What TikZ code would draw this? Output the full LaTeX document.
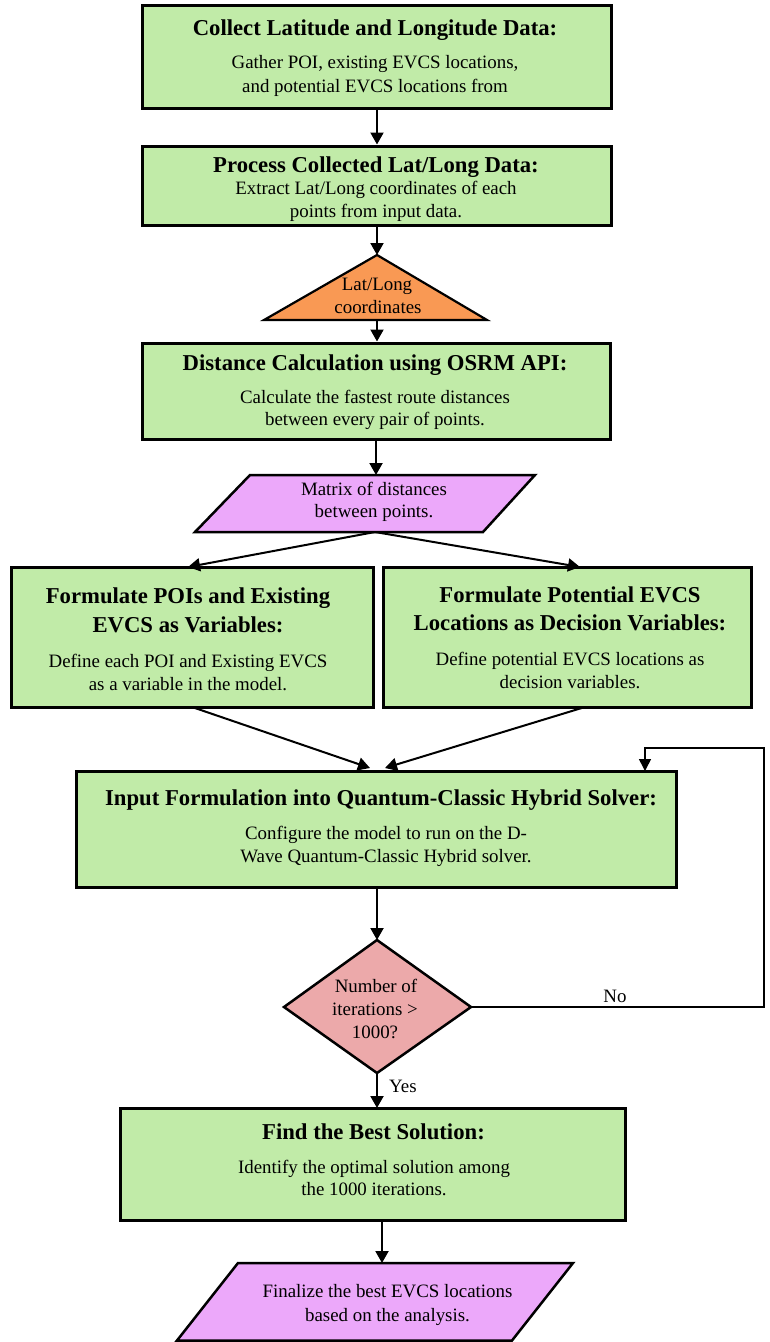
\documentclass[tikz,border=0pt]{standalone}
\usepackage{fontspec}
\setmainfont{Liberation Serif}
\usetikzlibrary{arrows.meta}
\definecolor{boxgreen}{RGB}{193,235,168}
\definecolor{triorange}{RGB}{249,153,84}
\definecolor{iopink}{RGB}{236,168,250}
\definecolor{decred}{RGB}{236,169,170}
\tikzset{
  proc/.style={draw, line width=3pt, fill=boxgreen, inner sep=0pt, rectangle},
  ttl/.style={anchor=base, inner sep=0pt, font=\fontsize{22.7}{27}\selectfont\bfseries},
  txt/.style={anchor=base, inner sep=0pt, font=\fontsize{18.9}{23}\selectfont},
  arr/.style={-{Triangle[length=12pt,width=13pt]}, line width=2pt},
  thinarr/.style={-{Triangle[length=12pt,width=12pt]}, line width=1.6pt},
  shapeline/.style={draw, line width=2.5pt, line join=miter}
}
\begin{document}
\begin{tikzpicture}[x=1pt,y=-1pt]
\useasboundingbox (0,0) rectangle (770,1342);

% ---------- Box 1
\node[proc, minimum width=469pt, minimum height=103pt] (b1) at (377,56.5) {};
\node[ttl] (b1t) at (375,35) {Collect Latitude and Longitude Data:};
\node[txt] (b1a) at (375,68) {Gather POI, existing EVCS locations,};
\node[txt] (b1b) at (375,92) {and potential EVCS locations from};

% ---------- Box 2
\node[proc, minimum width=469pt, minimum height=79pt] (b2) at (377,185.5) {};
\node[ttl] (b2t) at (376,172) {Process Collected Lat/Long Data:};
\node[txt] (b2a) at (376,194) {Extract Lat/Long coordinates of each};
\node[txt] (b2b) at (376,217) {points from input data.};

% ---------- Triangle
\coordinate (triTop) at (377,255);
\coordinate (triL) at (264,320);
\coordinate (triR) at (487,320);
\coordinate (triBot) at (377,320);
\draw[shapeline, line width=2.2pt, fill=triorange] (triTop) -- (triR) -- (triL) -- cycle;
\node[txt] (tria) at (377,290) {Lat/Long};
\node[txt] (trib) at (378,313) {coordinates};

% ---------- Box 3
\node[proc, minimum width=468pt, minimum height=96pt] (b3) at (376,391) {};
\node[ttl] (b3t) at (375,370) {Distance Calculation using OSRM API:};
\node[txt] (b3a) at (375,403) {Calculate the fastest route distances};
\node[txt] (b3b) at (375,425) {between every pair of points.};

% ---------- Parallelogram 1
\coordinate (p1TL) at (250,475);
\coordinate (p1TR) at (535,475);
\coordinate (p1BR) at (483,532);
\coordinate (p1BL) at (195,532);
\coordinate (p1Top) at (376,475);
\coordinate (p1Bot) at (375,532);
\draw[shapeline, fill=iopink] (p1TL) -- (p1TR) -- (p1BR) -- (p1BL) -- cycle;
\node[txt] (p1a) at (374,495) {Matrix of distances};
\node[txt] (p1b) at (374,517) {between points.};

% ---------- Left and right boxes
\node[proc, minimum width=362pt, minimum height=140pt] (L) at (192,637) {};
\node[ttl] (Lt1) at (188,603) {Formulate POIs and Existing};
\node[ttl] (Lt2) at (188,632) {EVCS as Variables:};
\node[txt] (La) at (188,667) {Define each POI and Existing EVCS};
\node[txt] (Lb) at (188,690) {as a variable in the model.};

\node[proc, minimum width=368pt, minimum height=140pt] (R) at (567,637) {};
\node[ttl] (Rt1) at (570,602) {Formulate Potential EVCS};
\node[ttl] (Rt2) at (570,630) {Locations as Decision Variables:};
\node[txt] (Ra) at (570,665) {Define potential EVCS locations as};
\node[txt] (Rb) at (570,688) {decision variables.};

\coordinate (Ltop) at (188,567);
\coordinate (Rtop) at (580,567);
\coordinate (Lbot) at (192,707);
\coordinate (Rbot) at (585,707);

% ---------- Input box
\node[proc, minimum width=600pt, minimum height=116pt] (I) at (376,829) {};
\node[ttl] (It) at (381,805) {Input Formulation into Quantum-Classic Hybrid Solver:};
\node[txt] (Ia) at (386,839) {Configure the model to run on the D-};
\node[txt] (Ib) at (386,862) {Wave Quantum-Classic Hybrid solver.};
\coordinate (IinL) at (370,768);
\coordinate (IinR) at (385,768);
\coordinate (IloopIn) at (645,771);
\coordinate (Ibot) at (377,887);

% ---------- Diamond
\coordinate (dTop) at (377,940);
\coordinate (dBot) at (377,1073);
\coordinate (dL) at (284,1007);
\coordinate (dR) at (471,1007);
\draw[shapeline, fill=decred] (dTop) -- (dR) -- (dBot) -- (dL) -- cycle;
\node[txt] (da) at (376,992) {Number of};
\node[txt] (db) at (375,1015) {iterations >};
\node[txt] (dc) at (375,1038) {1000?};

% loop corners
\coordinate (loopA) at (764,1007);
\coordinate (loopB) at (764,748);
\coordinate (loopC) at (645,748);
\node[txt] (no) at (615,1002) {No};
\node[txt, anchor=base west] (yes) at (389,1092) {Yes};

% ---------- Find box
\node[proc, minimum width=505pt, minimum height=112pt] (F) at (372.5,1164) {};
\node[ttl] (Ft) at (373.5,1139) {Find the Best Solution:};
\node[txt] (Fa) at (374,1173) {Identify the optimal solution among};
\node[txt] (Fb) at (374,1195) {the 1000 iterations.};
\coordinate (Ftop) at (377,1108);
\coordinate (Fbot) at (382,1220);

% ---------- Final parallelogram
\coordinate (p2TL) at (238,1263);
\coordinate (p2TR) at (573,1263);
\coordinate (p2BR) at (512,1340.5);
\coordinate (p2BL) at (177,1340.5);
\coordinate (p2Top) at (382,1263);
\draw[shapeline, fill=iopink] (p2TL) -- (p2TR) -- (p2BR) -- (p2BL) -- cycle;
\node[txt] (p2a) at (387.5,1297) {Finalize the best EVCS locations};
\node[txt] (p2b) at (387.5,1321) {based on the analysis.};

% ---------- Connectors
\draw[arr] (b1.south) -- (b2.north);
\draw[arr] (b2.south) -- (triTop);
\draw[arr] (triBot) -- (triBot |- b3.north);
\draw[arr] (b3.south) -- (p1Top);
\draw[arr] (p1Bot) -- (Ltop);
\draw[arr] (p1Bot) -- (Rtop);
\draw[arr] (Lbot) -- (IinL);
\draw[arr] (Rbot) -- (IinR);
\draw[arr] (Ibot) -- (dTop);
\draw[arr] (dBot) -- (Ftop);
\draw[arr] (Fbot) -- (p2Top);
\draw[thinarr] (dR) -- (loopA) -- (loopB) -- (loopC) -- (IloopIn);
\end{tikzpicture}
\end{document}
